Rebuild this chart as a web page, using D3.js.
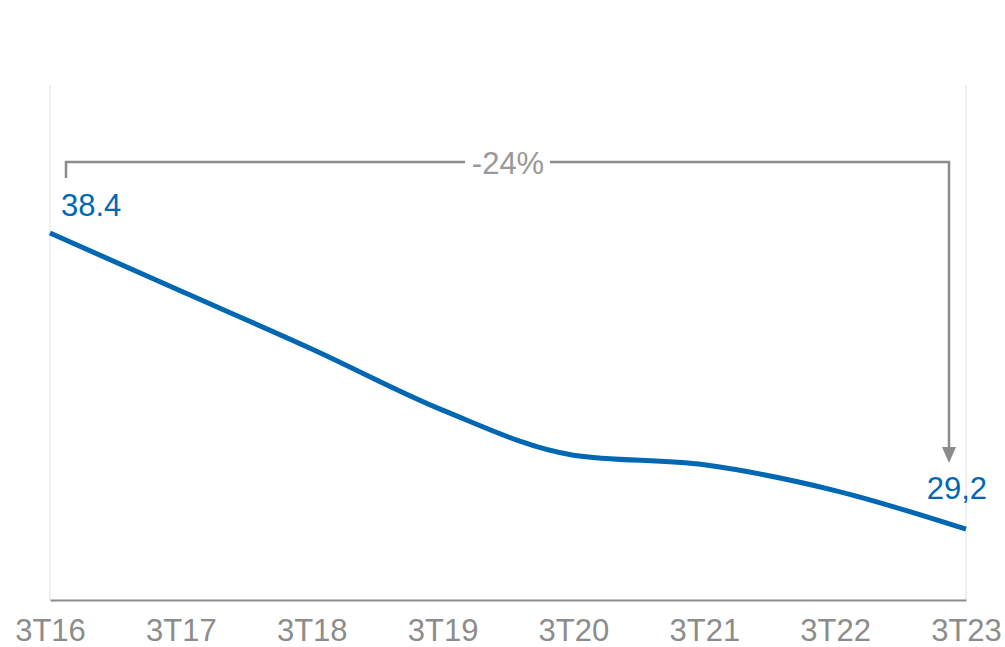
<!DOCTYPE html>
<html><head><meta charset="utf-8">
<script src="https://cdn.jsdelivr.net/npm/d3@7"></script>
<style>body{margin:0;background:#fff;} text{font-family:"Liberation Sans",Arial,sans-serif;}</style>
</head><body><svg id="c" width="1005" height="647"></svg>
<script>
const categories = ["3T16","3T17","3T18","3T19","3T20","3T21","3T22","3T23"];
const values = [38.4, 36.6, 34.8, 32.9, 31.5, 31.2, 30.4, 29.2];
const firstLabel = "38.4";
const lastLabel = "29,2";
const changeLabel = "-24%";

const svg = d3.select("#c");
const x = d3.scalePoint().domain(categories).range([50, 966]);
const y = d3.scaleLinear().domain([27, 43]).range([600, 85]);
const FS = 31;

// light vertical boundary lines
[categories[0], categories[categories.length-1]].forEach(c => {
  svg.append("line").attr("x1", x(c)).attr("x2", x(c)).attr("y1", y(43)).attr("y2", 600)
    .attr("stroke", "#f0f0f0").attr("stroke-width", 2);
});

// x axis
const ax = svg.append("g").attr("transform", "translate(0,600)")
  .call(d3.axisBottom(x).tickSize(0).tickPadding(19));
ax.select(".domain").attr("stroke", "#8c8c8c").attr("stroke-width", 2);
ax.selectAll("text").attr("font-size", FS).attr("fill", "#8c8c8c")
  .attr("font-family", "Liberation Sans, Arial, sans-serif");

// line
svg.append("path").datum(values.map((v,i)=>[categories[i], v]))
  .attr("fill","none").attr("stroke","#0068b3").attr("stroke-width",5)
  .attr("d", d3.line().x(d=>x(d[0])).y(d=>y(d[1])).curve(d3.curveMonotoneX));

// labels
svg.append("text").attr("x", x(categories[0]) + 11).attr("y", y(values[0]) - 17)
  .attr("font-size", FS).attr("fill", "#0068b3").text(firstLabel);
svg.append("text").attr("x", x(categories[7]) + 21).attr("y", y(values[7]) - 30)
  .attr("text-anchor","end").attr("font-size", FS).attr("fill", "#0068b3").text(lastLabel);

// bracket
const bx1 = x(categories[0]) + 16, bx2 = x(categories[7]) - 17, by = 162;
const g = svg.append("g").attr("stroke","#8c8c8c").attr("stroke-width",2.5).attr("fill","none");
g.append("path").attr("d", `M${bx1},${by+16}V${by}H465`);
g.append("path").attr("d", `M550,${by}H${bx2}V447`);
svg.append("path").attr("d", `M${bx2-7},447L${bx2+7},447L${bx2},463Z`).attr("fill","#8c8c8c");
svg.append("text").attr("x", 508).attr("y", by + 12).attr("text-anchor","middle")
  .attr("font-size", FS).attr("fill", "#999").text(changeLabel);
</script></body></html>
